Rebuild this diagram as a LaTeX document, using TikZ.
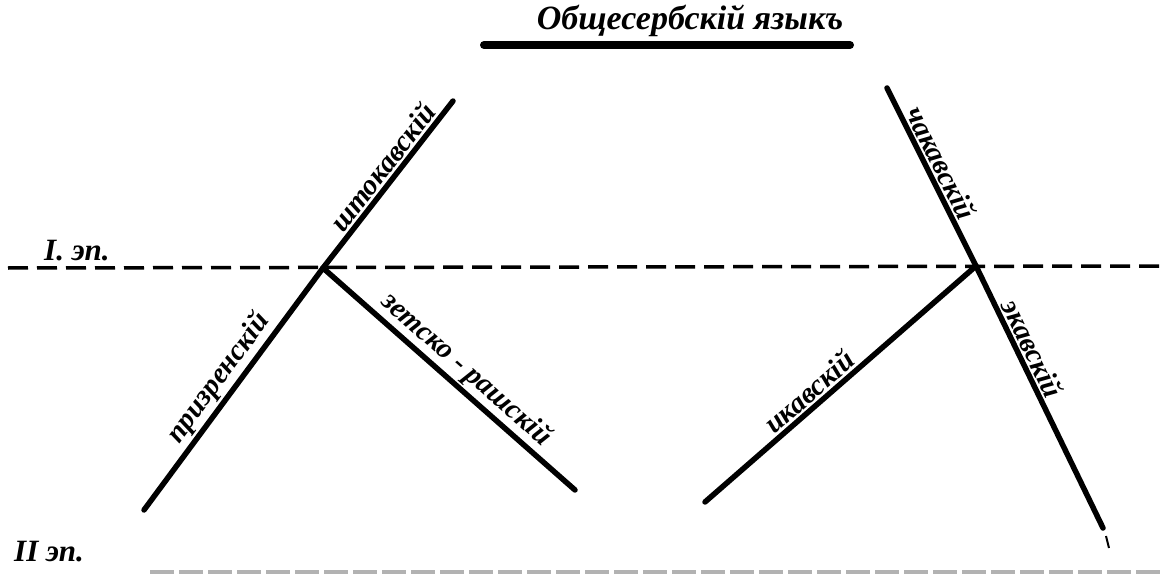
\documentclass[tikz,border=0pt]{standalone}
\usepackage{fontspec}
\setmainfont{Liberation Serif}
\newfontfamily\hand{Liberation Serif Bold Italic}
\begin{document}
\begin{tikzpicture}[x=1pt,y=-1pt,
  branch/.style={line width=5.5pt,line cap=round},
  epoch/.style={line width=3.5pt,dash pattern=on 20pt off 9pt},
  lbl/.style={font=\hand\fontsize{29}{29}\selectfont,sloped,above,inner sep=2pt},
  hd/.style={font=\hand\fontsize{31}{31}\selectfont,inner sep=0pt}]
\useasboundingbox (0,0) rectangle (1160,575);
% title
\node[hd,font=\hand\fontsize{34}{34}\selectfont] (title) at (690,21) {Общесербскій языкъ};
\coordinate (u1) at (484,45);
\coordinate (u2) at (850,45);
\draw[line width=8pt,line cap=round] (u1) -- (u2);
% epoch lines
\coordinate (e1) at (8,268);
\coordinate (e2) at (1160,266);
\draw[epoch] (e1) -- (e2);
\node[hd,anchor=south west] (ep1) at (44,261) {I. эп.};
\node[hd,anchor=south west] (ep2) at (14,562) {II эп.};
% left tree
\coordinate (J1) at (323,268);
\coordinate (L1) at (453,101);
\coordinate (L2) at (144,510);
\coordinate (L3) at (575,490);
\draw[branch] (J1) -- (L1) node[lbl,pos=0.55] (shto) {штокавскій};
\draw[branch] (L2) -- (J1) node[lbl,pos=0.5] (prizr) {призренскій};
\draw[branch] (J1) -- (L3) node[lbl,pos=0.52] (zeta) {зетско - рашскій};
% right tree
\coordinate (J2) at (976,266);
\coordinate (R1) at (887,88);
\coordinate (R2) at (705,502);
\coordinate (R3) at (1103,528);
\draw[branch] (R1) -- (J2) node[lbl,pos=0.46] (chak) {чакавскій};
\draw[branch] (R2) -- (J2) node[lbl,pos=0.42] (ikav) {икавскій};
\draw[branch] (J2) -- (R3) node[lbl,pos=0.34] (ekav) {экавскій};
\coordinate (t1) at (1106,536);
\coordinate (t2) at (1109,548);
\draw[line width=2pt] (t1) -- (t2);
% bottom scan edge
\coordinate (b1) at (150,572);
\coordinate (b2) at (1160,572);
\draw[gray!60,line width=4pt,dash pattern=on 24pt off 5pt] (b1) -- (b2);
\end{tikzpicture}
\end{document}
